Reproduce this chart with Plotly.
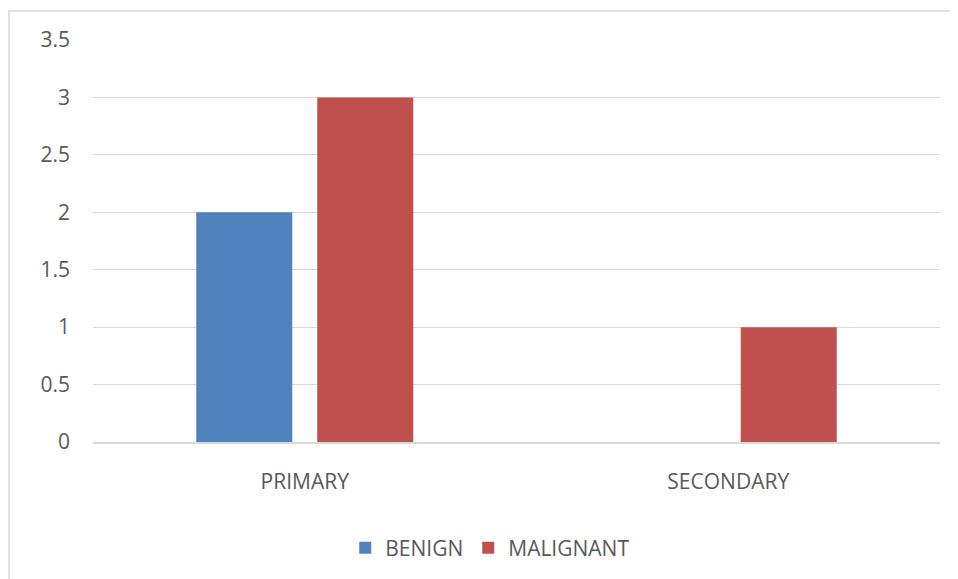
import plotly.graph_objects as go

categories = ["PRIMARY", "SECONDARY"]
benign = [2, None]
malignant = [3, 1]
y_ticks = [0, 0.5, 1, 1.5, 2, 2.5, 3, 3.5]
y_tick_labels = ["0", "0.5", "1", "1.5", "2", "2.5", "3", "3.5"]

font_family = "Open Sans, Lato, sans-serif"
text_color = "#595959"

fig = go.Figure()
fig.add_trace(go.Bar(name="BENIGN", x=categories, y=benign, marker=dict(color="#4F81BD", line=dict(width=0))))
fig.add_trace(go.Bar(name="MALIGNANT", x=categories, y=malignant, marker=dict(color="#C0504D", line=dict(width=0))))

fig.update_layout(
    width=958, height=579,
    margin=dict(l=85, r=26, t=32, b=145),
    paper_bgcolor="white", plot_bgcolor="white",
    barmode="group", bargap=0.4286, bargroupgap=0.2066,
    font=dict(family=font_family, size=21, color=text_color),
    showlegend=True,
    legend=dict(orientation="h", x=0.469, xanchor="center", y=-0.264, yanchor="middle",
                font=dict(size=21, color=text_color), itemwidth=30, traceorder="normal"),
    xaxis=dict(showgrid=False, showline=True, linecolor="#d9d9d9", linewidth=1.5,
               ticks="", ticklabelstandoff=20, tickfont=dict(size=21, color=text_color)),
    yaxis=dict(range=[0, 3.5], tickvals=y_ticks, ticktext=y_tick_labels, showgrid=True,
               gridcolor="#d9d9d9", gridwidth=1, zeroline=False, showline=False, ticks="",
               ticklabelstandoff=22, tickfont=dict(size=21, color=text_color)),
    shapes=[dict(type="rect", xref="paper", yref="paper", x0=-0.0992, x1=1.05, y0=-0.4, y1=1.0721,
                 line=dict(color="#d9d9d9", width=1.5), fillcolor="rgba(0,0,0,0)", layer="below")],
)

fig.write_html("out.html")
